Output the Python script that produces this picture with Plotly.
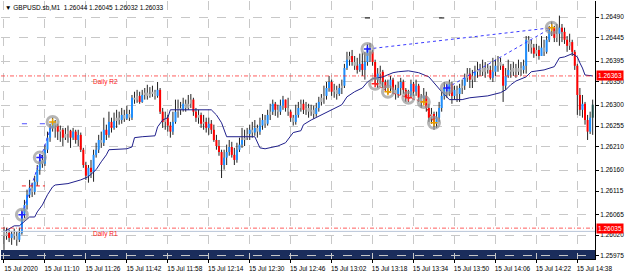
import plotly.graph_objects as go
import pandas as pd

# ---------------- data (prices in points, 1 point = 0.00001) ----------------
start_time = "2020-07-15 10:54"
n_bars = 231

open_pts = [126027,126018,126025,126014,126023,126018,126010,126025,126066,126085,
            126107,126122,126113,126135,126161,126182,126174,126204,126230,126251,
            126264,126256,126243,126247,126230,126238,126245,126230,126243,126225,
            126236,126204,126171,126148,126165,126156,126193,126204,126225,126219,
            126247,126236,126264,126251,126266,126273,126268,126279,126271,126281,
            126273,126316,126312,126320,126307,126322,126327,126320,126324,126329,
            126320,126333,126286,126264,126273,126256,126243,126264,126286,126294,
            126290,126303,126294,126303,126312,126286,126273,126279,126260,126264,
            126251,126260,126247,126225,126212,126199,126171,126187,126199,126210,
            126193,126182,126204,126215,126225,126230,126238,126247,126241,126251,
            126243,126256,126268,126260,126279,126286,126303,126290,126286,126299,
            126312,126294,126286,126273,126264,126279,126294,126303,126290,126294,
            126286,126290,126281,126294,126307,126316,126320,126337,126350,126329,
            126333,126324,126337,126342,126380,126398,126406,126393,126385,126376,
            126389,126376,126393,126424,126415,126393,126355,126368,126372,126350,
            126337,126342,126355,126333,126324,126337,126350,126333,126316,126322,
            126346,126329,126342,126316,126307,126320,126294,126273,126281,126260,
            126273,126294,126320,126337,126329,126346,126320,126333,126324,126337,
            126342,126359,126368,126355,126363,126372,126376,126380,126372,126380,
            126376,126359,126372,126385,126393,126385,126342,126363,126376,126372,
            126380,126372,126380,126376,126385,126441,126432,126424,126411,126419,
            126406,126424,126415,126441,126462,126467,126445,126454,126467,126458,
            126441,126428,126436,126415,126385,126322,126290,126303,126268,126243,
            126273]
high_pts = [126038,126036,126032,126029,126034,126027,126036,126075,126096,126118,
            126139,126133,126148,126171,126195,126193,126215,126243,126260,126273,
            126268,126260,126256,126251,126251,126256,126247,126251,126247,126247,
            126241,126208,126178,126171,126182,126204,126219,126236,126243,126273,
            126258,126286,126273,126284,126290,126286,126294,126290,126299,126290,
            126322,126329,126333,126329,126333,126337,126344,126339,126342,126333,
            126350,126337,126294,126286,126279,126264,126286,126312,126312,126307,
            126316,126312,126322,126324,126316,126294,126290,126284,126279,126273,
            126273,126268,126258,126236,126225,126204,126204,126215,126225,126221,
            126208,126219,126230,126251,126247,126251,126258,126264,126268,126258,
            126273,126281,126279,126290,126303,126312,126307,126301,126312,126320,
            126312,126316,126290,126279,126301,126307,126312,126312,126307,126303,
            126301,126299,126305,126318,126324,126342,126350,126363,126355,126346,
            126342,126346,126355,126389,126415,126415,126419,126406,126402,126411,
            126413,126415,126432,126434,126419,126398,126380,126385,126376,126355,
            126355,126363,126359,126344,126350,126359,126355,126337,126333,126355,
            126350,126355,126346,126324,126337,126329,126303,126294,126286,126286,
            126307,126329,126350,126346,126355,126350,126342,126342,126346,126355,
            126368,126380,126380,126376,126385,126393,126389,126398,126393,126389,
            126385,126402,126398,126406,126402,126389,126380,126398,126389,126393,
            126389,126398,126393,126398,126449,126449,126441,126432,126432,126428,
            126449,126441,126449,126471,126480,126471,126475,126493,126475,126467,
            126449,126454,126441,126419,126389,126337,126322,126307,126279,126286,
            126312]
low_pts = [125988,126010,126005,125999,126010,125997,126005,126021,126057,126075,
           126100,126102,126107,126126,126150,126165,126169,126197,126221,126243,
           126230,126225,126221,126212,126225,126219,126208,126225,126217,126212,
           126199,126165,126139,126133,126143,126135,126187,126197,126208,126212,
           126225,126230,126241,126247,126251,126258,126260,126264,126268,126266,
           126268,126303,126305,126303,126305,126312,126312,126316,126318,126312,
           126316,126281,126251,126247,126243,126230,126236,126260,126273,126279,
           126286,126286,126290,126294,126277,126264,126260,126251,126247,126241,
           126236,126238,126221,126204,126191,126143,126161,126171,126191,126187,
           126171,126176,126199,126208,126212,126225,126225,126230,126234,126230,
           126236,126247,126251,126256,126268,126279,126277,126273,126279,126290,
           126286,126277,126264,126256,126258,126273,126286,126281,126279,126273,
           126277,126271,126275,126286,126299,126303,126312,126329,126320,126316,
           126312,126320,126324,126337,126376,126385,126385,126376,126368,126372,
           126363,126355,126385,126393,126385,126346,126337,126346,126337,126329,
           126324,126329,126324,126312,126316,126322,126324,126307,126307,126316,
           126320,126320,126307,126294,126303,126286,126264,126260,126247,126251,
           126264,126286,126312,126316,126320,126303,126312,126307,126307,126324,
           126333,126350,126337,126337,126350,126359,126363,126363,126359,126368,
           126355,126350,126363,126372,126376,126307,126333,126359,126359,126363,
           126359,126365,126363,126368,126368,126415,126411,126402,126406,126398,
           126406,126406,126411,126436,126449,126436,126436,126428,126436,126432,
           126415,126419,126406,126376,126279,126277,126273,126258,126225,126238,
           126236]
close_pts = [126018,126025,126014,126023,126018,126010,126025,126066,126085,126107,
             126122,126113,126135,126161,126182,126174,126204,126230,126251,126264,
             126256,126243,126247,126230,126238,126245,126230,126243,126225,126236,
             126204,126171,126148,126165,126156,126193,126204,126225,126219,126247,
             126236,126264,126251,126266,126273,126268,126279,126271,126281,126273,
             126316,126312,126320,126307,126322,126327,126320,126324,126329,126320,
             126333,126286,126264,126273,126256,126243,126264,126286,126294,126290,
             126303,126294,126303,126312,126286,126273,126279,126260,126264,126251,
             126260,126247,126225,126212,126199,126171,126187,126199,126210,126193,
             126182,126204,126215,126225,126230,126238,126247,126241,126251,126243,
             126256,126268,126260,126279,126286,126303,126290,126286,126299,126312,
             126294,126286,126273,126264,126279,126294,126303,126290,126294,126286,
             126290,126281,126294,126307,126316,126320,126337,126350,126329,126333,
             126324,126337,126342,126380,126398,126406,126393,126385,126376,126389,
             126376,126393,126424,126415,126393,126355,126368,126372,126350,126337,
             126342,126355,126333,126324,126337,126350,126333,126316,126322,126346,
             126329,126342,126316,126307,126320,126294,126273,126281,126260,126273,
             126294,126320,126337,126329,126346,126320,126333,126324,126337,126342,
             126359,126368,126355,126363,126372,126376,126380,126372,126380,126376,
             126359,126372,126385,126393,126385,126342,126363,126376,126372,126380,
             126372,126380,126376,126385,126441,126432,126424,126411,126419,126406,
             126424,126415,126441,126462,126467,126445,126454,126467,126458,126441,
             126428,126436,126415,126385,126322,126290,126303,126268,126243,126273,
             126301]

# slow indicator line (navy), vertices
ma_times = ["10:54","10:58","11:00","11:02","11:04","11:06","11:07","11:09","11:11","11:13",
            "11:14","11:19","11:24","11:27","11:30","11:32","11:34","11:35","11:42","11:44",
            "11:45","11:48","11:53","11:54","11:56","11:58","11:59","12:15","12:17","12:19",
            "12:21","12:32","12:34","12:36","12:39","12:41","12:44","12:47","12:50","12:51",
            "12:54","12:58","13:02","13:06","13:08","13:11","13:14","13:16","13:18","13:22",
            "13:26","13:28","13:32","13:36","13:40","13:42","13:45","13:48","13:53","13:56",
            "14:03","14:08","14:10","14:12","14:14","14:18","14:20","14:25","14:29","14:31",
            "14:33","14:36","14:38","14:39","14:40","14:41","14:44"]
ma_pts = [126027,126040,126040,126049,126059,126059,126070,126085,126107,126124,
          126128,126131,126139,126146,126161,126178,126193,126204,126206,126210,
          126230,126232,126234,126253,126268,126273,126290,126290,126279,126262,
          126232,126232,126208,126206,126210,126212,126219,126241,126245,126258,
          126268,126279,126290,126301,126318,126329,126337,126350,126357,126361,
          126370,126372,126374,126370,126361,126348,126329,126312,126312,126316,
          126320,126327,126333,126344,126352,126361,126372,126376,126383,126402,
          126404,126411,126404,126391,126380,126365,126363]

# pivot levels
level_names = ["Daily R2", "Daily R1"]
level_values = [1.26363, 1.26035]
level_label_time = "11:28"

# swing markers
circ_times = ["11:01","11:08","11:13","13:16","13:19","13:24","13:32","13:38","13:42","13:47","14:28"]
circ_pts = [126064,126187,126264,126421,126346,126329,126316,126307,126262,126337,126467]
circ_kind = ["up","up","top","up","dn","top","dn","top","top","up","top"]

# trend lines
trend_up = [(["11:01","11:13"], [126064,126264]),
            (["13:16","14:28"], [126421,126467]),
            (["13:47","14:28"], [126337,126467])]
trend_dn = (["13:19","13:24","13:32","13:38","13:42"], [126346,126329,126316,126307,126262])

# y ticks / x ticks
y_tick_labels = ["1.26490","1.26445","1.26395","1.26350","1.26300","1.26255",
                 "1.26210","1.26160","1.26115","1.26065","1.26020","1.25975"]
x_tick_times = ["10:54","11:10","11:26","11:42","11:58","12:14","12:30","12:46",
                "13:02","13:18","13:34","13:50","14:06","14:22","14:38"]
x_tick_labels = ["15 Jul 2020"] + ["15 Jul " + t for t in x_tick_times[1:]]

title_text = "▼ GBPUSD.sb,M1  1.26044 1.26045 1.26032 1.26033"
bid_price = 1.26028

# ---------------- build ----------------
P = 1e-5
day = "2020-07-15 "
times = pd.date_range(start_time, periods=n_bars, freq="min")
o = [v * P for v in open_pts]
h = [v * P for v in high_pts]
l = [v * P for v in low_pts]
c = [v * P for v in close_pts]

FONT = "Liberation Sans"
fig = go.Figure()

# wicks
wx, wy = [], []
for t, hi, lo in zip(times, h, l):
    wx += [t, t, None]
    wy += [lo, hi, None]
fig.add_trace(go.Scatter(x=wx, y=wy, mode="lines", line=dict(color="#222222", width=1),
                         hoverinfo="skip"))

# bodies grouped by colour
groups = {"#1E8FFF": ([], []), "#FF0000": ([], []), "#A8A8A8": ([], []), "#1E4D4A": ([], [])}
for k, (t, oo, cc) in enumerate(zip(times, o, c)):
    if k == n_bars - 1:
        col = "#1E4D4A"
    elif abs(cc - oo) < 9 * P:
        col = "#A8A8A8"
    elif cc > oo:
        col = "#1E8FFF"
    else:
        col = "#FF0000"
    lo_b, hi_b = min(oo, cc), max(oo, cc)
    if hi_b - lo_b < 2 * P:
        hi_b = lo_b + 2 * P
    groups[col][0].extend([t, t, None])
    groups[col][1].extend([lo_b, hi_b, None])
for col, (gx, gy) in groups.items():
    fig.add_trace(go.Scatter(x=gx, y=gy, mode="lines", line=dict(color=col, width=2),
                             hoverinfo="skip"))

# navy indicator line
fig.add_trace(go.Scatter(x=[day + t for t in ma_times], y=[v * P for v in ma_pts],
                         mode="lines", line=dict(color="#20208C", width=1)))

# trend lines
for tt, pp in trend_up:
    fig.add_trace(go.Scatter(x=[day + t for t in tt], y=[v * P for v in pp], mode="lines",
                             line=dict(color="#3A3AFF", width=1, dash="dot")))
fig.add_trace(go.Scatter(x=[day + t for t in trend_dn[0]], y=[v * P for v in trend_dn[1]],
                         mode="lines", line=dict(color="#FF2020", width=1, dash="3px,2px")))

# small level ticks
fig.add_trace(go.Scatter(x=[day + "11:01", day + "11:10"], y=[1.26126, 1.26126], mode="lines",
                         line=dict(color="#FF2020", width=1, dash="4px,3px")))
for a, b in [("11:01", "11:03"), ("11:08", "11:10")]:
    fig.add_trace(go.Scatter(x=[day + a, day + b], y=[1.26260, 1.26260], mode="lines",
                             line=dict(color="#5050FF", width=1)))
for a, b in [("13:15", "13:17"), ("13:44", "13:46")]:
    fig.add_trace(go.Scatter(x=[day + a, day + b], y=[1.26488, 1.26488], mode="lines",
                             line=dict(color="#000000", width=1)))

# swing circles
fig.add_trace(go.Scatter(x=[day + t for t in circ_times], y=[v * P for v in circ_pts], mode="markers",
                         marker=dict(symbol="circle-open", size=11, color="rgba(150,150,150,0.7)",
                                     line=dict(width=3))))
kind_col = {"up": "#2020FF", "dn": "#FF2020", "top": "#E8A000"}
inner_cols = [kind_col[k] for k in circ_kind]
fig.add_trace(go.Scatter(x=[day + t for t in circ_times], y=[v * P for v in circ_pts], mode="markers",
                         marker=dict(symbol="cross-thin", size=5, color=inner_cols,
                                     line=dict(width=1.5, color=inner_cols))))

shapes = []
# bottom navy band
shapes.append(dict(type="rect", xref="paper", x0=0, x1=1, yref="y", y0=1.2596, y1=1.25988,
                   fillcolor="#1B2D5C", line=dict(width=0), layer="below"))
# pivot lines
for v in level_values:
    shapes.append(dict(type="line", xref="paper", x0=0, x1=1, yref="y", y0=v, y1=v,
                       line=dict(color="rgba(255,40,40,0.75)", width=1, dash="4px,2px,1px,2px")))
shapes.append(dict(type="line", xref="paper", x0=0, x1=1, yref="y", y0=bid_price, y1=bid_price,
                   line=dict(color="#B8C4D8", width=1)))

annotations = []
for name, v in zip(level_names, level_values):
    annotations.append(dict(x=day + level_label_time, y=v, xref="x", yref="y", text=name,
                            showarrow=False, xanchor="left", yanchor="top", yshift=0,
                            font=dict(family=FONT, size=6.5, color="#FF2020")))
    annotations.append(dict(x=1, y=v, xref="paper", yref="y", text=f"{v:.5f}",
                            showarrow=False, xanchor="left", yanchor="middle", xshift=1,
                            bgcolor="#FF0000", borderpad=1,
                            font=dict(family=FONT, size=6.5, color="white")))
annotations.append(dict(x=0, y=1, xref="paper", yref="paper", text=title_text, showarrow=False,
                        xanchor="left", yanchor="top", xshift=2, yshift=-1,
                        font=dict(family=FONT, size=6.5, color="black")))

fig.update_layout(
    width=625, height=273, margin=dict(l=1, r=30, t=1, b=14),
    plot_bgcolor="white", paper_bgcolor="white", showlegend=False,
    shapes=shapes, annotations=annotations,
    xaxis=dict(type="date", range=[day + "10:52:50", day + "14:44:54"],
               tickvals=[day + t for t in x_tick_times], ticktext=x_tick_labels,
               showgrid=True, gridcolor="#C8C8C8", griddash="dash", gridwidth=1,
               ticks="outside", ticklen=3, tickcolor="black", showline=True, linecolor="black",
               ticklabelshift=17, zeroline=False,
               tickfont=dict(family=FONT, size=6.5, color="black")),
    yaxis=dict(side="right", range=[1.259685, 1.265245],
               tickvals=[float(s) for s in y_tick_labels], ticktext=y_tick_labels,
               showgrid=True, gridcolor="#C8C8C8", griddash="dash", gridwidth=1,
               ticks="outside", ticklen=3, tickcolor="black", showline=True, linecolor="black",
               zeroline=False, tickfont=dict(family=FONT, size=6.5, color="black")),
)

fig.write_html("out.html")
